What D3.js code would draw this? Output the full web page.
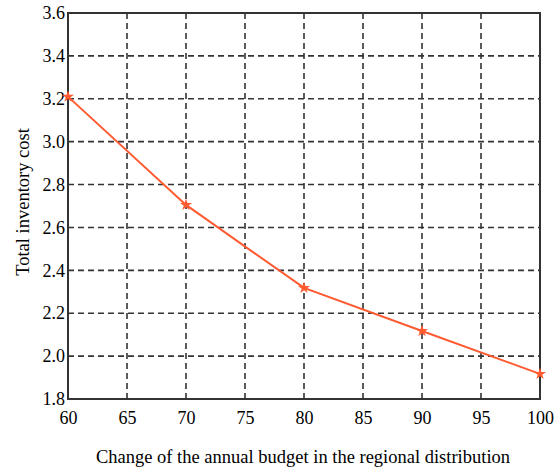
<!DOCTYPE html>
<html lang="en">
<head>
<style>
  body { margin: 0; background: #fff; }
  .axis path, .axis line { display: none; }
  .grid line { stroke: #333; stroke-width: 1.6; stroke-dasharray: 6,4; }
  .title { font-family: "Liberation Serif", "Times New Roman", serif; font-size: 18.5px; }
</style>
<script src="https://d3js.org/d3.v7.min.js" charset="utf-8"></script>
</head>
<body>
<script>
  let budget = [60, 70, 80, 90, 100];
  let cost = [3.21, 2.705, 2.318, 2.117, 1.917];
  let xTicks = [60, 65, 70, 75, 80, 85, 90, 95, 100];
  let yTicks = [1.8, 2.0, 2.2, 2.4, 2.6, 2.8, 3.0, 3.2, 3.4, 3.6];

  let marginLeft = 68, marginTop = 13, plotWidth = 472, plotHeight = 386;

  let svg = d3.select("body").append("svg")
    .attr("width", 559)
    .attr("height", 470);

  let g = svg.append("g")
    .attr("transform", "translate(" + marginLeft + "," + marginTop + ")");

  let x = d3.scaleLinear().domain([60, 100]).range([0, plotWidth]);
  let y = d3.scaleLinear().domain([1.8, 3.6]).range([plotHeight, 0]);

  // dashed grid
  g.append("g").attr("class", "grid")
    .selectAll("line")
    .data(xTicks.slice(1, -1))
    .join("line")
    .attr("x1", d => x(d)).attr("x2", d => x(d))
    .attr("y1", 0).attr("y2", plotHeight);

  g.append("g").attr("class", "grid")
    .selectAll("line")
    .data(yTicks.slice(1, -1))
    .join("line")
    .attr("y1", d => y(d)).attr("y2", d => y(d))
    .attr("x1", 0).attr("x2", plotWidth);

  // frame
  g.append("rect")
    .attr("width", plotWidth)
    .attr("height", plotHeight)
    .style("fill", "none")
    .style("stroke", "#333")
    .style("stroke-width", 2);

  let xAxis = g.append("g")
    .attr("class", "axis")
    .attr("transform", "translate(0," + plotHeight + ")")
    .call(d3.axisBottom(x).tickValues(xTicks).tickFormat(d3.format("d")).tickSize(0).tickPadding(12));

  let yAxis = g.append("g")
    .attr("class", "axis")
    .call(d3.axisLeft(y).tickValues(yTicks).tickFormat(d3.format(".1f")).tickSize(0).tickPadding(3));

  [xAxis, yAxis].forEach(a => a.selectAll("text")
    .style("font-family", "'Liberation Serif', 'Times New Roman', serif")
    .style("font-size", "18px")
    .style("fill", "#000"));

  let points = budget.map((b, i) => ({ b: b, c: cost[i] }));

  g.append("path")
    .datum(points)
    .attr("d", d3.line().x(d => x(d.b)).y(d => y(d.c)))
    .style("fill", "none")
    .style("stroke", "#ff5a30")
    .style("stroke-width", 2);

  g.selectAll(".marker")
    .data(points)
    .join("path")
    .attr("class", "marker")
    .attr("transform", d => "translate(" + x(d.b) + "," + y(d.c) + ")")
    .attr("d", d3.symbol(d3.symbolStar, 45))
    .style("fill", "#ff5a30");

  svg.append("text")
    .attr("class", "title")
    .attr("x", 303)
    .attr("y", 463)
    .attr("text-anchor", "middle")
    .text("Change of the annual budget in the regional distribution");

  svg.append("text")
    .attr("class", "title")
    .attr("transform", "translate(29,202) rotate(-90)")
    .attr("text-anchor", "middle")
    .text("Total inventory cost");
</script>
</body>
</html>
